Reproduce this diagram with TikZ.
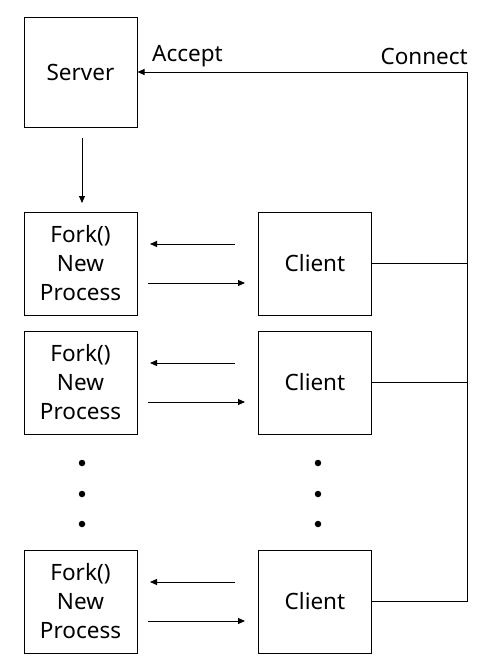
\documentclass[tikz,border=0pt]{standalone}
\usepackage{fontspec}
\setmainfont{Noto Sans}
\usetikzlibrary{arrows.meta}
\begin{document}
\begin{tikzpicture}[x=1pt,y=-1pt,
  box/.style={draw,line width=1pt,minimum width=113pt,minimum height=103pt,inner sep=0pt,align=center,font=\fontsize{22.5}{29}\selectfont},
  conn/.style={line width=1pt},
  arr/.style={line width=1pt,-{Triangle[length=7pt,width=6pt]}},
  lbl/.style={font=\fontsize{22.5}{26}\selectfont,inner sep=0pt},
  dotc/.style={circle,fill=black,inner sep=0pt,minimum size=6.5pt}]
\useasboundingbox (0,0) rectangle (497,670);
\node[box,minimum height=110pt] (srv) at (80.5,72) {Server};
\node[box] (f1) at (80.5,263.5) {Fork()\\New\\Process};
\node[box] (c1) at (315,263.5) {Client};
\node[box] (f2) at (80.5,382.5) {Fork()\\New\\Process};
\node[box] (c2) at (315,382.5) {Client};
\node[box] (f3) at (80.5,601.5) {Fork()\\New\\Process};
\node[box] (c3) at (315,601.5) {Client};
\node[lbl,anchor=west] (acc) at (152,56) {Accept};
\node[lbl,anchor=east] (con) at (468,56) {Connect};
% server to fork
\coordinate (s0) at (82,138);
\coordinate (s1) at (82,203);
\draw[arr] (s0) -- (s1);
% fork/client arrows
\foreach \y/\n in {244/1,363/2,582/3}{
  \coordinate (la\n) at (235,\y);
  \coordinate (lb\n) at (150,\y);
  \draw[arr] (la\n) -- (lb\n);
  \coordinate (ra\n) at (148,\y+39);
  \coordinate (rb\n) at (245,\y+39);
  \draw[arr] (ra\n) -- (rb\n);
}
% connect lines
\coordinate (top) at (467,72);
\coordinate (j1) at (c1.east -| top);
\coordinate (j2) at (c2.east -| top);
\coordinate (j3) at (c3.east -| top);
\draw[conn] (c1.east) -- (j1);
\draw[conn] (c2.east) -- (j2);
\draw[conn] (c3.east) -- (j3);
\draw[conn] (j3) -- (top);
\draw[arr] (top) -- (srv.east);
% dots
\foreach \y/\n in {463/1,494/2,524/3}{
  \node[dotc] (dl\n) at (82,\y) {};
  \node[dotc] (dr\n) at (318,\y) {};
}
\end{tikzpicture}
\end{document}
